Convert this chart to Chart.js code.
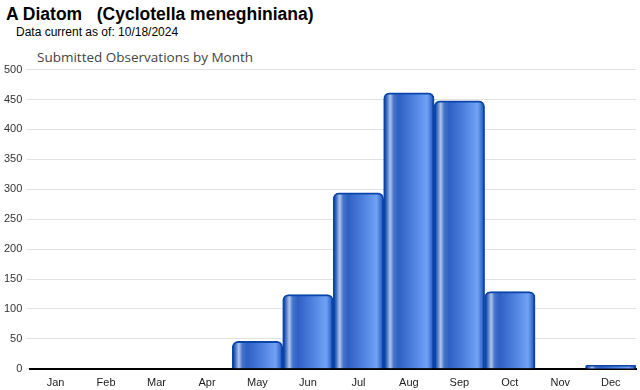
<!DOCTYPE html>
<html>
<head>
<meta charset="utf-8">
<script src="https://cdn.jsdelivr.net/npm/chart.js@4"></script>
<style>
body{margin:0;background:#fff;width:640px;height:390px;overflow:hidden;position:relative;font-family:Arial,"Liberation Sans",sans-serif;}
#t1{position:absolute;left:6px;top:4px;font-size:17.5px;font-weight:bold;color:#000;white-space:pre;}
#t2{position:absolute;left:16px;top:25px;font-size:12px;color:#000;}
#t3{position:absolute;left:37px;top:48px;font-size:13.5px;color:#444;font-family:"Open Sans","DejaVu Sans",sans-serif;}
#wrap{position:absolute;left:0;top:59px;width:640px;height:335px;}
</style>
</head>
<body>
<div id="t1">A Diatom   (Cyclotella meneghiniana)</div>
<div id="t2">Data current as of: 10/18/2024</div>
<div id="t3">Submitted Observations by Month</div>
<div id="wrap"><canvas id="chart"></canvas></div>
<script>
var months = ["Jan","Feb","Mar","Apr","May","Jun","Jul","Aug","Sep","Oct","Nov","Dec"];
var observations = [0,0,0,0,46,124,294,461,448,129,0,6];

function barGradient(context) {
    var chart = context.chart;
    var xs = chart.scales.x;
    if (!xs || !chart.chartArea) return "#3f72d4";
    var cx = xs.getPixelForValue(context.dataIndex);
    var half = xs.width / months.length / 2;
    var g = chart.ctx.createLinearGradient(cx - half, 0, cx + half, 0);
    g.addColorStop(0, "#08368c");
    g.addColorStop(0.06, "#3e6cc0");
    g.addColorStop(0.13, "#b0c6ea");
    g.addColorStop(0.2, "#4574cc");
    g.addColorStop(0.3, "#2f60c4");
    g.addColorStop(0.62, "#5284e2");
    g.addColorStop(0.86, "#70a3f4");
    g.addColorStop(0.95, "#3a6cd0");
    g.addColorStop(1, "#0c40a0");
    return g;
}

var ctx = document.getElementById("chart");
var chart = new Chart(ctx, {
    type: 'bar',
    data: {
        labels: months,
        datasets: [{
            data: observations,
            backgroundColor: barGradient,
            borderColor: "#0a45aa",
            borderWidth: 2,
            borderRadius: 6,
            borderSkipped: 'bottom',
            barPercentage: 1,
            categoryPercentage: 1
        }]
    },
    options: {
        responsive: true,
        maintainAspectRatio: false,
        animation: false,
        layout: {padding: {left: 0, right: 4, top: 4, bottom: 0}},
        plugins: {legend: {display: false}, tooltip: {enabled: false}},
        scales: {
            x: {
                grid: {display: false, drawTicks: true, tickLength: 4},
                border: {color: "#000", width: 2},
                ticks: {color: "#222", font: {family: "Arial", size: 11}, padding: 4}
            },
            y: {
                min: 0,
                max: 500,
                ticks: {stepSize: 50, color: "#333", font: {family: "Arial", size: 11}, padding: 4},
                grid: {color: "#e2e2e2", drawTicks: true, tickLength: 4},
                border: {display: false}
            }
        }
    }
});
</script>
</body>
</html>
